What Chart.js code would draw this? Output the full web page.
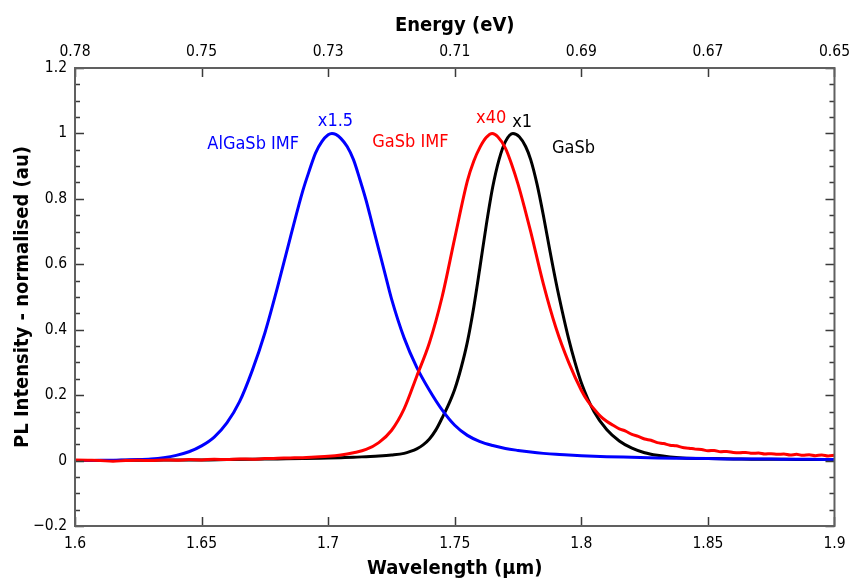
<!DOCTYPE html>
<html>
<head>
<meta charset="utf-8">
<script src="https://cdn.jsdelivr.net/npm/chart.js@4.4.1/dist/chart.umd.min.js"></script>
<style>
  html, body { margin: 0; padding: 0; background: #ffffff; }
  #wrap { width: 857px; height: 581px; }
</style>
</head>
<body>
<div id="wrap"><canvas id="c" width="857" height="581"></canvas></div>
<script>
// ---------- data ----------
const xTickValues = [1.6, 1.65, 1.7, 1.75, 1.8, 1.85, 1.9];
const xTickLabels = ["1.6", "1.65", "1.7", "1.75", "1.8", "1.85", "1.9"];
const energyTickLabels = ["0.78", "0.75", "0.73", "0.71", "0.69", "0.67", "0.65"];
const yTickValues = [-0.2, 0, 0.2, 0.4, 0.6, 0.8, 1.0, 1.2];
const yTickLabels = ["\u22120.2", "0", "0.2", "0.4", "0.6", "0.8", "1", "1.2"];

// AlGaSb IMF (blue, x1.5)
const blueWavelength = [1.600,1.605,1.610,1.615,1.620,1.625,1.630,1.635,1.640,1.645,1.650,1.655,1.660,1.665,1.670,1.675,1.680,1.685,1.690,1.6925,1.695,1.6975,1.700,1.7015,1.703,1.705,1.7075,1.710,1.7125,1.715,1.7175,1.720,1.7225,1.725,1.730,1.735,1.740,1.745,1.750,1.755,1.760,1.765,1.770,1.775,1.780,1.785,1.790,1.795,1.800,1.810,1.820,1.830,1.840,1.850,1.860,1.870,1.880,1.890,1.900];
const blueIntensity = [0.000,0.000,0.001,0.001,0.002,0.003,0.005,0.009,0.016,0.027,0.045,0.072,0.115,0.180,0.275,0.390,0.530,0.680,0.825,0.885,0.940,0.975,0.996,1.000,0.997,0.985,0.960,0.920,0.860,0.795,0.720,0.645,0.570,0.495,0.375,0.285,0.215,0.155,0.108,0.077,0.058,0.046,0.037,0.031,0.026,0.022,0.019,0.017,0.015,0.012,0.010,0.008,0.007,0.006,0.005,0.005,0.004,0.004,0.003];

// GaSb IMF (red, x40)
const redWavelength = [1.600,1.605,1.610,1.615,1.620,1.625,1.630,1.635,1.640,1.645,1.650,1.655,1.660,1.665,1.670,1.675,1.680,1.685,1.690,1.695,1.700,1.705,1.710,1.715,1.720,1.725,1.730,1.735,1.740,1.745,1.750,1.755,1.7575,1.760,1.7625,1.7648,1.767,1.770,1.7725,1.775,1.7775,1.780,1.785,1.790,1.795,1.800,1.8025,1.805,1.8075,1.810,1.8125,1.815,1.8175,1.820,1.8225,1.825,1.8275,1.830,1.8325,1.835,1.8375,1.840,1.8425,1.845,1.8475,1.850,1.8525,1.855,1.8575,1.860,1.8625,1.865,1.8675,1.870,1.8725,1.875,1.8775,1.880,1.8825,1.885,1.8875,1.890,1.8925,1.895,1.8975,1.900];
const redIntensity = [0.002,0.001,0.000,-0.002,0.000,0.001,0.000,0.002,0.001,0.003,0.002,0.004,0.003,0.005,0.004,0.006,0.007,0.008,0.009,0.011,0.013,0.017,0.024,0.034,0.055,0.092,0.158,0.258,0.360,0.500,0.680,0.855,0.915,0.958,0.988,1.000,0.990,0.955,0.905,0.845,0.775,0.700,0.540,0.405,0.300,0.215,0.182,0.158,0.136,0.120,0.108,0.097,0.090,0.080,0.074,0.066,0.062,0.055,0.052,0.047,0.045,0.040,0.038,0.035,0.034,0.030,0.031,0.027,0.028,0.025,0.024,0.025,0.022,0.023,0.020,0.021,0.019,0.020,0.017,0.019,0.016,0.018,0.015,0.017,0.014,0.016];

// GaSb (black, x1)
const blackWavelength = [1.60,1.61,1.62,1.63,1.64,1.65,1.66,1.67,1.68,1.69,1.700,1.705,1.710,1.715,1.720,1.725,1.730,1.7325,1.735,1.7375,1.740,1.7425,1.745,1.7475,1.750,1.7525,1.755,1.7575,1.760,1.7625,1.765,1.7675,1.770,1.773,1.7755,1.778,1.780,1.7825,1.785,1.7875,1.790,1.7925,1.795,1.7975,1.800,1.805,1.810,1.815,1.820,1.825,1.830,1.835,1.840,1.850,1.860,1.870,1.880,1.890,1.900];
const blackIntensity = [0.000,0.000,0.001,0.001,0.002,0.002,0.003,0.004,0.005,0.006,0.008,0.009,0.010,0.012,0.014,0.017,0.022,0.028,0.036,0.048,0.066,0.093,0.130,0.170,0.218,0.283,0.363,0.468,0.593,0.722,0.836,0.920,0.975,1.000,0.990,0.960,0.920,0.845,0.750,0.645,0.545,0.455,0.372,0.300,0.238,0.150,0.095,0.060,0.038,0.024,0.016,0.011,0.008,0.006,0.005,0.004,0.004,0.003,0.003];

const seriesNames = ["GaSb IMF", "AlGaSb IMF", "GaSb"];

// annotation texts (anchored in data coordinates)
const annotations = [
  { text: "AlGaSb IMF", x: 1.6704, y: 0.953, color: "#0000ff" },
  { text: "x1.5",       x: 1.7029, y: 1.023, color: "#0000ff" },
  { text: "GaSb IMF",   x: 1.7325, y: 0.960, color: "#ff0000" },
  { text: "x40",        x: 1.7644, y: 1.031, color: "#ff0000" },
  { text: "x1",         x: 1.7766, y: 1.021, color: "#000000" },
  { text: "GaSb",       x: 1.7969, y: 0.940, color: "#000000" }
];

// ---------- chart ----------
const FONT = '"DejaVu Sans Condensed", "DejaVu Sans", sans-serif';
const zip = (xs, ys) => xs.map((x, i) => ({ x: x, y: ys[i] }));

const framePlugin = {
  id: 'frame',
  afterDraw(chart) {
    const { ctx, chartArea: a, scales } = chart;
    const xs = scales.x, ys = scales.y;
    ctx.save();
    ctx.strokeStyle = '#3a3a3a';
    ctx.lineWidth = 1.5;
    ctx.beginPath();
    for (let k = -4; k <= 24; k++) {
      const v = k * 0.05;
      const py = Math.round(ys.getPixelForValue(v)) + 0.5;
      const len = (k % 4 === 0) ? 9 : 5;
      ctx.moveTo(a.left, py); ctx.lineTo(a.left + len, py);
      ctx.moveTo(a.right, py); ctx.lineTo(a.right - len, py);
    }
    xTickValues.forEach(v => {
      const px = Math.round(xs.getPixelForValue(v)) + 0.5;
      ctx.moveTo(px, a.bottom); ctx.lineTo(px, a.bottom - 9);
      ctx.moveTo(px, a.top); ctx.lineTo(px, a.top + 9);
    });
    ctx.stroke();
    ctx.strokeStyle = '#606060';
    ctx.lineWidth = 2;
    ctx.strokeRect(a.left, a.top, a.right - a.left, a.bottom - a.top);
    ctx.font = '18px ' + FONT;
    ctx.textAlign = 'center';
    ctx.textBaseline = 'alphabetic';
    annotations.forEach(t => {
      ctx.fillStyle = t.color;
      ctx.fillText(t.text, xs.getPixelForValue(t.x), ys.getPixelForValue(t.y));
    });
    ctx.restore();
  }
};

const lineStyle = (color) => ({
  borderColor: color, backgroundColor: color, borderWidth: 3,
  pointRadius: 0, pointHoverRadius: 0, showLine: true, fill: false,
  cubicInterpolationMode: 'monotone'
});

new Chart(document.getElementById('c'), {
  type: 'scatter',
  data: {
    datasets: [
      Object.assign({ label: seriesNames[0], data: zip(redWavelength, redIntensity) }, lineStyle('#ff0000')),
      Object.assign({ label: seriesNames[1], data: zip(blueWavelength, blueIntensity) }, lineStyle('#0000ff')),
      Object.assign({ label: seriesNames[2], data: zip(blackWavelength, blackIntensity) }, lineStyle('#000000'))
    ]
  },
  options: {
    responsive: false,
    devicePixelRatio: 1,
    animation: false,
    layout: { padding: { left: 0, right: 20, top: 0, bottom: 0 } },
    plugins: { legend: { display: false }, tooltip: { enabled: false } },
    scales: {
      x: {
        type: 'linear', position: 'bottom', min: 1.6, max: 1.9,
        grid: { display: false, drawTicks: false }, border: { display: false },
        afterBuildTicks: s => { s.ticks = xTickValues.map(v => ({ value: v })); },
        afterFit: s => { s.height = 55; },
        ticks: { padding: 9, color: '#000', font: { family: FONT, size: 15.5 }, maxRotation: 0,
                 callback: (v, i) => xTickLabels[i] },
        title: { display: true, text: 'Wavelength (\u00b5m)', color: '#000',
                 font: { family: FONT, size: 20, weight: 'bold' }, padding: { top: 0, bottom: 0 } }
      },
      x2: {
        type: 'linear', position: 'top', min: 1.6, max: 1.9,
        grid: { display: false, drawTicks: false }, border: { display: false },
        afterBuildTicks: s => { s.ticks = xTickValues.map(v => ({ value: v })); },
        afterFit: s => { s.height = 68; },
        ticks: { padding: 7, color: '#000', font: { family: FONT, size: 15.5 }, maxRotation: 0,
                 callback: (v, i) => energyTickLabels[i] },
        title: { display: true, text: 'Energy (eV)', color: '#000',
                 font: { family: FONT, size: 20, weight: 'bold' }, padding: { top: 14, bottom: 0 } }
      },
      y: {
        type: 'linear', position: 'left', min: -0.2, max: 1.2,
        grid: { display: false, drawTicks: false }, border: { display: false },
        afterBuildTicks: s => { s.ticks = yTickValues.map(v => ({ value: v })); },
        afterFit: s => { s.width = 75; },
        ticks: { padding: 8, color: '#000', font: { family: FONT, size: 15.5 },
                 callback: (v, i) => yTickLabels[i] },
        title: { display: true, text: 'PL Intensity - normalised (au)', color: '#000',
                 font: { family: FONT, size: 20, weight: 'bold' }, padding: { top: 11, bottom: 0 } }
      }
    }
  },
  plugins: [framePlugin]
});
</script>
</body>
</html>
